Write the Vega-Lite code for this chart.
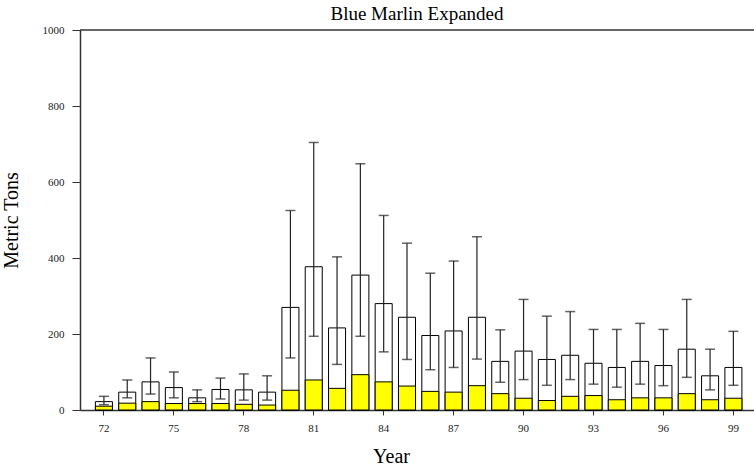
{
  "$schema": "https://vega.github.io/schema/vega-lite/v6.json",
  "autosize": {"type": "none"},
  "padding": {"left": 80, "top": 30, "right": 0, "bottom": 60},
  "width": 674,
  "height": 380,
  "background": "white",
  "title": {"text": "Blue Marlin Expanded", "font": "Liberation Serif", "fontSize": 19, "fontWeight": "normal", "color": "#000", "offset": 0, "anchor": "middle"},
  "config": {
    "view": {"stroke": null},
    "axis": {"grid": false, "domainColor": "#333", "domainWidth": 1.5, "tickColor": "#333", "labelFont": "Liberation Serif", "labelFontSize": 11, "labelColor": "#222", "titleFont": "Liberation Serif", "titleFontSize": 20, "titleFontWeight": "normal", "titleColor": "#000"}
  },
  "data": {"values": [
    {"year": 72, "box": 22, "yellow": 10, "lo": 14, "hi": 36},
    {"year": 73, "box": 47, "yellow": 18, "lo": 32, "hi": 79},
    {"year": 74, "box": 74, "yellow": 22, "lo": 42, "hi": 137},
    {"year": 75, "box": 59, "yellow": 17, "lo": 32, "hi": 100},
    {"year": 76, "box": 32, "yellow": 17, "lo": 22, "hi": 53},
    {"year": 77, "box": 54, "yellow": 17, "lo": 29, "hi": 84},
    {"year": 78, "box": 53, "yellow": 15, "lo": 26, "hi": 95},
    {"year": 79, "box": 47, "yellow": 13, "lo": 26, "hi": 90},
    {"year": 80, "box": 270, "yellow": 52, "lo": 137, "hi": 525},
    {"year": 81, "box": 377, "yellow": 79, "lo": 194, "hi": 704},
    {"year": 82, "box": 216, "yellow": 57, "lo": 120, "hi": 403},
    {"year": 83, "box": 355, "yellow": 93, "lo": 194, "hi": 648},
    {"year": 84, "box": 280, "yellow": 74, "lo": 153, "hi": 512},
    {"year": 85, "box": 244, "yellow": 63, "lo": 133, "hi": 439},
    {"year": 86, "box": 196, "yellow": 49, "lo": 106, "hi": 360},
    {"year": 87, "box": 208, "yellow": 47, "lo": 112, "hi": 392},
    {"year": 88, "box": 244, "yellow": 64, "lo": 134, "hi": 456},
    {"year": 89, "box": 128, "yellow": 43, "lo": 73, "hi": 211},
    {"year": 90, "box": 155, "yellow": 31, "lo": 80, "hi": 291},
    {"year": 91, "box": 133, "yellow": 25, "lo": 65, "hi": 247},
    {"year": 92, "box": 144, "yellow": 36, "lo": 80, "hi": 259},
    {"year": 93, "box": 123, "yellow": 38, "lo": 68, "hi": 212},
    {"year": 94, "box": 112, "yellow": 27, "lo": 60, "hi": 212},
    {"year": 95, "box": 128, "yellow": 32, "lo": 68, "hi": 228},
    {"year": 96, "box": 117, "yellow": 32, "lo": 64, "hi": 212},
    {"year": 97, "box": 160, "yellow": 43, "lo": 86, "hi": 291},
    {"year": 98, "box": 90, "yellow": 27, "lo": 53, "hi": 160},
    {"year": 99, "box": 112, "yellow": 31, "lo": 65, "hi": 207}
  ]},
  "encoding": {
    "x": {"field": "year", "type": "ordinal",
      "scale": {"paddingInner": 0.27, "paddingOuter": 0.59, "align": 0.56},
      "axis": {"title": "Year", "values": [72, 75, 78, 81, 84, 87, 90, 93, 96, 99], "labelAngle": 0, "tickSize": 5, "labelPadding": 7, "labelFont": "Liberation Serif", "labelFontSize": 11, "titleX": 311, "titleY": 36, "titleBaseline": "top"}}
  },
  "layer": [
    {"mark": {"type": "bar", "fill": "white", "stroke": "black", "strokeWidth": 1},
     "encoding": {"y": {"field": "box", "type": "quantitative", "scale": {"domain": [0, 1000], "nice": false},
       "axis": {"title": "Metric Tons", "values": [0, 200, 400, 600, 800, 1000], "format": "d", "labelFont": "Liberation Serif", "labelFontSize": 11, "tickSize": 8, "labelPadding": 8, "titleX": -59, "titleY": 190, "titleAlign": "center", "titleAngle": -90}}}},
    {"mark": {"type": "bar", "fill": "#ffff00", "stroke": "black", "strokeWidth": 1},
     "encoding": {"y": {"field": "yellow", "type": "quantitative"}}},
    {"mark": {"type": "rule", "color": "#222", "strokeWidth": 1.2},
     "encoding": {"y": {"field": "lo", "type": "quantitative"}, "y2": {"field": "hi"}}},
    {"mark": {"type": "tick", "color": "#222", "size": 10, "thickness": 1.5},
     "encoding": {"y": {"field": "hi", "type": "quantitative"}}},
    {"mark": {"type": "tick", "color": "#222", "size": 10, "thickness": 1.5},
     "encoding": {"y": {"field": "lo", "type": "quantitative"}}},
    {"data": {"values": [{"v": 1000}]},
     "mark": {"type": "rule", "color": "#333", "strokeWidth": 1.5},
     "encoding": {"x": null, "y": {"field": "v", "type": "quantitative"}}}
  ]
}
